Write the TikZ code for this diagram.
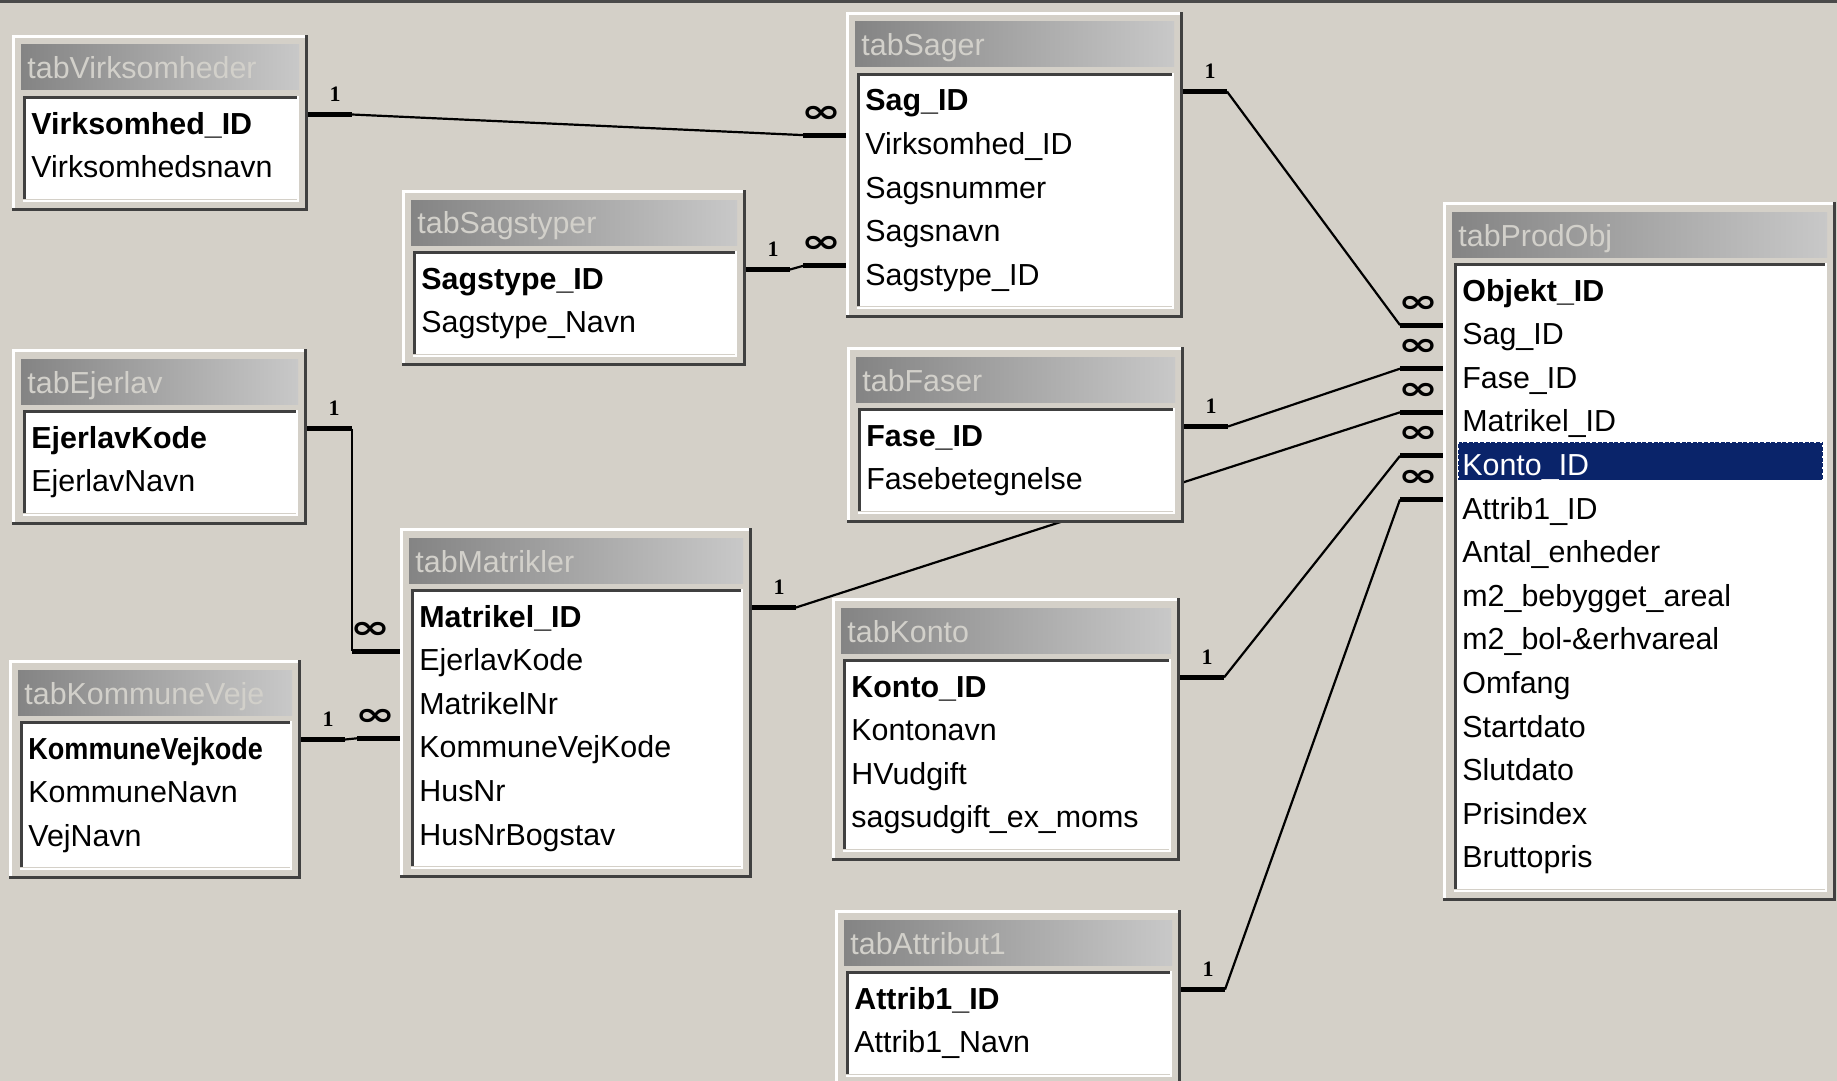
\documentclass[tikz,border=0pt]{standalone}
\usepackage{fontspec}
\setmainfont{Liberation Sans}
\newfontfamily\symfont{DejaVu Sans}
\newfontfamily\onefont{Liberation Serif}
\usetikzlibrary{fit,calc}
\pgfdeclarelayer{bg}
\pgfsetlayers{bg,main}
\definecolor{winbg}{HTML}{D4D0C8}
\definecolor{darkedge}{HTML}{404040}
\definecolor{midedge}{HTML}{808080}
\definecolor{titleL}{HTML}{848484}
\definecolor{titleR}{HTML}{C8C8C8}
\definecolor{titlefg}{HTML}{D2D0CA}
\definecolor{selnavy}{HTML}{0A246A}
\definecolor{topline}{HTML}{4A4A4A}
\tikzset{
  fieldtext/.style={inner sep=0pt, font=\fontsize{15.2}{18}\selectfont},
  titletext/.style={inner sep=0pt, text=titlefg, font=\fontsize{15.2}{18}\selectfont},
  framelight/.style={white, line width=1.2pt},
  framedark/.style={darkedge, line width=1.5pt},
  sunkdark/.style={darkedge, line width=1.5pt},
  stubline/.style={line width=2.5pt, black},
  connline/.style={line width=1.1pt, black},
  onelabel/.style={inner sep=0pt, font=\onefont\fontsize{11}{11}\selectfont\bfseries},
  manylabel/.style={inner sep=0pt},
}
\newcommand{\manysym}{\scalebox{1.5}[1]{\symfont\fontsize{16}{16}\selectfont\bfseries ∞}}
\def\dbhl{0}
% #1 name, #2 x0, #3 y0, #4 x1, #5 number of fields, #6 title, #7 fields
\newcommand{\dbtab}[7]{%
  \pgfmathsetmacro\dbyl{#3+88+(#5-1)*43.6}%
  \pgfmathsetmacro\dbyb{\dbyl+44}%
  \pgfmathsetmacro\dbyw{\dbyl+29}%
  \fill[winbg] (#2,#3) rectangle (#4,\dbyb);
  \draw[framelight] (#2+1.5,\dbyb-2) -- (#2+1.5,#3+1.5) -- (#4-2,#3+1.5);
  \draw[framedark] (#2,\dbyb-1.5) -- (#4-1.5,\dbyb-1.5) -- (#4-1.5,#3);
  \begin{scope}
    \clip (#2+9,#3+10) rectangle (#4-9,#3+55);
    \shade[left color=titleL, right color=titleR] (#2+9,#3+10) rectangle (#4-9,#3+55);
    \node[titletext, anchor=base west] (#1-title) at (#2+15,#3+44) {#6};
  \end{scope}
  \fill[white] (#2+11,#3+61) rectangle (#4-11,\dbyw+3);
  \draw[white, line width=1pt] (#2+11,\dbyw+5) -- (#4-10,\dbyw+5) -- (#4-10,#3+61);
  \draw[sunkdark] (#2+12.5,\dbyw+3) -- (#2+12.5,#3+62.5) -- (#4-11,#3+62.5);
  \foreach \f [count=\i] in {#7} {%
    \pgfmathsetmacro\dbyr{#3+88+(\i-1)*43.6}%
    \coordinate (#1-L\i) at (#2,\dbyr);
    \coordinate (#1-R\i) at (#4,\dbyr);
    \ifnum\i=\dbhl\relax
      \fill[selnavy] (#2+15,\dbyr-22) rectangle (#4-13,\dbyr+16);
      \draw[white, dotted, line width=0.8pt] (#2+15,\dbyr-22) rectangle (#4-13,\dbyr+16);
      \def\dbcol{white}%
    \else
      \def\dbcol{black}%
    \fi
    \node[fieldtext, text=\dbcol, anchor=base west] (#1-f\i) at (#2+19,\dbyr+11) {\ifnum\i=1 \bfseries\fi\f};
  }
  \node[fit={(#2,#3) (#4,\dbyb)}, inner sep=0pt] (#1) {};
}
% relation from right side of #1 (row #2) to left side of #3 (row #4)
\newcommand{\dbrel}[4]{%
  \draw[stubline] ($(#1-R#2)+(0,-8.5)$) coordinate (#1-o#2) -- ++(44,0) coordinate (#1-oe#2);
  \draw[stubline] ($(#3-L#4)+(0,-8.5)$) coordinate (#3-i#4) -- ++(-43,0) coordinate (#3-ie#4);
  \draw[connline] (#1-oe#2) -- (#3-ie#4);
  \node[onelabel] at ($(#1-o#2)+(27,-20)$) {1};
  \node[manylabel] at ($(#3-i#4)+(-25,-21)$) {\manysym};
}
\begin{document}
\begin{tikzpicture}[x=0.5pt,y=-0.5pt]
\useasboundingbox (0,0) rectangle (1837,1081);
\clip (0,0) rectangle (1837,1081);
\begin{pgfonlayer}{bg}
  \fill[winbg] (0,0) rectangle (1837,1081);
  \fill[topline] (0,0) rectangle (1837,3);
\end{pgfonlayer}

\dbtab{virk}{12}{35}{308}{2}{tabVirksomheder}{Virksomhed\_ID,Virksomhedsnavn}
\dbtab{sager}{846}{12}{1183}{5}{tabSager}{Sag\_ID,Virksomhed\_ID,Sagsnummer,Sagsnavn,Sagstype\_ID}
\dbtab{styper}{402}{190}{746}{2}{tabSagstyper}{Sagstype\_ID,Sagstype\_Navn}
\dbtab{ejer}{12}{349}{307}{2}{tabEjerlav}{EjerlavKode,EjerlavNavn}
\dbtab{faser}{847}{347}{1184}{2}{tabFaser}{Fase\_ID,Fasebetegnelse}
\def\dbhl{5}
\dbtab{prod}{1443}{202}{1836}{14}{tabProdObj}{Objekt\_ID,Sag\_ID,Fase\_ID,Matrikel\_ID,Konto\_ID,Attrib1\_ID,Antal\_enheder,m2\_bebygget\_areal,m2\_bol-\&erhvareal,Omfang,Startdato,Slutdato,Prisindex,Bruttopris}
\def\dbhl{0}
\dbtab{matr}{400}{528}{752}{6}{tabMatrikler}{Matrikel\_ID,EjerlavKode,MatrikelNr,KommuneVejKode,HusNr,HusNrBogstav}
\dbtab{komm}{9}{660}{301}{3}{tabKommuneVeje}{{\scalebox{0.89}[1]{KommuneVejkode}},KommuneNavn,VejNavn}
\dbtab{konto}{832}{598}{1180}{4}{tabKonto}{Konto\_ID,Kontonavn,HVudgift,sagsudgift\_ex\_moms}
\dbtab{attr}{835}{910}{1181}{2}{tabAttribut1}{Attrib1\_ID,Attrib1\_Navn}

\begin{pgfonlayer}{bg}
  \dbrel{virk}{1}{sager}{2}
  \dbrel{styper}{1}{sager}{5}
  \dbrel{sager}{1}{prod}{2}
  \dbrel{faser}{1}{prod}{3}
  \dbrel{matr}{1}{prod}{4}
  \dbrel{konto}{1}{prod}{5}
  \dbrel{attr}{1}{prod}{6}
  \dbrel{komm}{1}{matr}{4}
  % Ejerlav -> Matrikler (vertical)
  \draw[stubline] ($(ejer-R1)+(0,-8.5)$) coordinate (ejer-o1) -- ++(45,0) coordinate (ejer-oe1);
  \draw[stubline] ($(matr-L2)+(0,-8.5)$) coordinate (matr-i2) -- ++(-48,0) coordinate (matr-ie2);
  \draw[connline] (ejer-oe1) -- (matr-ie2);
  \node[onelabel] at ($(ejer-o1)+(27,-20)$) {1};
  \node[manylabel] at ($(matr-i2)+(-30,-21)$) {\manysym};
\end{pgfonlayer}
\end{tikzpicture}
\end{document}
